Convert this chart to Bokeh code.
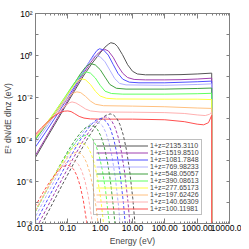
from bokeh.plotting import figure
from bokeh.models import LogAxis, FixedTicker, Legend, LegendItem
from bokeh.embed import file_html
from bokeh.resources import INLINE

labels = ["1+z=2135.3110", "1+z=1519.8510", "1+z=1081.7848", "1+z=769.98233",
          "1+z=548.05057", "1+z=390.08613", "1+z=277.65173", "1+z=197.62426",
          "1+z=140.66309", "1+z=100.11981"]
colors = ["#555555", "#a040b0", "#5050ff", "#b0b0ff", "#40a040",
          "#60ff60", "#ffff40", "#ffc080", "#ffb0b0", "#ff5050"]

# ---- solid curves: log10(E/eV), log10(E^2 dN/dE dlnz) ----
s0_lx = [-2.0, -1.7, -1.4, -1.1, -0.8, -0.5, -0.25, 0.0, 0.15, 0.25, 0.33, 0.45, 0.54, 0.69, 0.85, 1.0, 1.15, 1.4, 2.0, 2.5, 3.0, 3.45, 3.45]
s0_ly = [-4.85, -4.05, -3.27, -2.48, -1.7, -0.93, -0.37, 0.12, 0.4, 0.53, 0.61, 0.56, 0.42, 0.04, -0.44, -0.75, -0.88, -0.92, -0.92, -0.91, -0.88, -0.84, -10]
s1_lx = [-2.0, -1.7, -1.4, -1.1, -0.8, -0.5, -0.3, -0.1, 0.05, 0.13, 0.25, 0.4, 0.55, 0.7, 0.85, 1.05, 1.4, 2.0, 2.5, 3.0, 3.45, 3.45]
s1_ly = [-4.75, -3.97, -3.18, -2.4, -1.6, -0.82, -0.35, 0.05, 0.25, 0.30, 0.22, -0.08, -0.5, -0.85, -1.05, -1.14, -1.16, -1.16, -1.15, -1.12, -1.08, -10]
s2_lx = [-2.0, -1.7, -1.4, -1.1, -0.8, -0.55, -0.35, -0.2, -0.1, -0.02, 0.1, 0.25, 0.4, 0.55, 0.7, 0.9, 1.2, 2.0, 3.0, 3.45, 3.45]
s2_ly = [-4.35, -3.68, -2.98, -2.25, -1.5, -0.85, -0.33, 0.03, 0.24, 0.32, 0.27, 0.02, -0.42, -0.85, -1.13, -1.27, -1.3, -1.3, -1.25, -1.22, -10]
s3_lx = [-2.0, -1.7, -1.4, -1.1, -0.8, -0.55, -0.35, -0.22, -0.13, 0.0, 0.15, 0.3, 0.45, 0.6, 0.8, 2.0, 3.0, 3.45, 3.45]
s3_ly = [-4.15, -3.5, -2.83, -2.13, -1.4, -0.8, -0.35, -0.08, -0.01, -0.06, -0.3, -0.7, -1.1, -1.33, -1.4, -1.42, -1.38, -1.35, -10]
s4_lx = [-2.0, -1.7, -1.4, -1.1, -0.8, -0.6, -0.45, -0.35, -0.28, -0.15, 0.0, 0.15, 0.3, 0.5, 0.8, 2.0, 3.0, 3.45, 3.45]
s4_ly = [-4.0, -3.37, -2.72, -2.05, -1.33, -0.85, -0.55, -0.42, -0.39, -0.45, -0.67, -1.03, -1.38, -1.56, -1.6, -1.6, -1.57, -1.55, -10]
s5_lx = [-2.0, -1.7, -1.4, -1.1, -0.85, -0.65, -0.5, -0.43, -0.3, -0.15, 0.0, 0.15, 0.35, 0.7, 2.0, 3.0, 3.45, 3.45]
s5_ly = [-3.95, -3.32, -2.68, -2.0, -1.42, -1.02, -0.83, -0.78, -0.84, -1.07, -1.42, -1.7, -1.81, -1.84, -1.84, -1.82, -1.8, -10]
s6_lx = [-2.0, -1.7, -1.4, -1.1, -0.9, -0.75, -0.65, -0.57, -0.45, -0.3, -0.15, 0.0, 0.2, 0.5, 2.0, 3.0, 3.45, 3.45]
s6_ly = [-3.9, -3.3, -2.7, -2.05, -1.6, -1.3, -1.16, -1.11, -1.16, -1.38, -1.7, -1.93, -2.04, -2.07, -2.08, -2.08, -2.1, -10]
s7_lx = [-2.0, -1.7, -1.4, -1.2, -1.0, -0.85, -0.72, -0.6, -0.45, -0.3, -0.15, 0.1, 1.0, 2.0, 3.0, 3.45, 3.45]
s7_ly = [-3.85, -3.35, -2.82, -2.4, -2.0, -1.8, -1.73, -1.77, -1.95, -2.17, -2.32, -2.39, -2.41, -2.44, -2.5, -2.52, -10]
s8_lx = [-2.0, -1.8, -1.6, -1.4, -1.2, -1.05, -0.95, -0.87, -0.75, -0.6, -0.45, -0.3, 0.0, 1.0, 2.0, 2.6, 3.0, 3.25, 3.38, 3.45, 3.45]
s8_ly = [-3.8, -3.5, -3.18, -2.88, -2.56, -2.36, -2.25, -2.21, -2.26, -2.4, -2.55, -2.64, -2.69, -2.7, -2.72, -2.76, -2.83, -2.86, -2.8, -2.7, -10]
s9_lx = [-2.0, -1.8, -1.6, -1.4, -1.25, -1.1, -1.0, -0.9, -0.8, -0.65, -0.5, -0.3, 0.0, 1.0, 2.0, 2.6, 3.0, 3.2, 3.35, 3.45, 3.45]
s9_ly = [-3.75, -3.42, -3.12, -2.86, -2.72, -2.65, -2.64, -2.67, -2.76, -2.9, -2.98, -3.02, -3.03, -3.03, -3.06, -3.15, -3.27, -3.3, -3.2, -2.85, -10]

# ---- dashed curves ----
d0_lx = [-2.09, -1.69, -1.19, -0.69, -0.39, -0.19, 0.01, 0.16, 0.31, 0.41, 0.51, 0.61, 0.71, 0.81, 0.91, 1.01, 1.11]
d0_ly = [-8.89, -7.69, -6.21, -4.77, -3.96, -3.48, -3.07, -2.86, -2.78, -2.83, -2.98, -3.28, -3.76, -4.47, -5.46, -6.82, -8.63]
d1_lx = [-2.24, -1.84, -1.34, -0.84, -0.54, -0.34, -0.14, 0.01, 0.16, 0.26, 0.36, 0.46, 0.56, 0.66, 0.76, 0.86, 0.96]
d1_ly = [-9.03, -7.83, -6.35, -4.91, -4.10, -3.62, -3.21, -3.00, -2.92, -2.97, -3.12, -3.42, -3.90, -4.61, -5.60, -6.96, -8.77]
d2_lx = [-2.38, -1.98, -1.48, -0.98, -0.68, -0.48, -0.28, -0.13, 0.02, 0.12, 0.22, 0.32, 0.42, 0.52, 0.62, 0.72, 0.82]
d2_ly = [-9.11, -7.91, -6.43, -4.99, -4.18, -3.70, -3.29, -3.08, -3.00, -3.05, -3.20, -3.50, -3.98, -4.69, -5.68, -7.04, -8.85]
d3_lx = [-2.13, -1.63, -1.13, -0.83, -0.63, -0.43, -0.28, -0.13, -0.03, 0.07, 0.17, 0.27, 0.37, 0.47, 0.57, 0.67]
d3_ly = [-8.06, -6.58, -5.14, -4.33, -3.85, -3.44, -3.23, -3.15, -3.20, -3.35, -3.65, -4.13, -4.84, -5.83, -7.19, -9.00]
d4_lx = [-2.28, -1.78, -1.28, -0.98, -0.78, -0.58, -0.43, -0.28, -0.18, -0.08, 0.02, 0.12, 0.22, 0.32, 0.42, 0.52]
d4_ly = [-8.24, -6.76, -5.32, -4.51, -4.03, -3.62, -3.41, -3.33, -3.38, -3.53, -3.83, -4.31, -5.02, -6.01, -7.37, -9.18]
d5_lx = [-2.43, -1.93, -1.43, -1.13, -0.93, -0.73, -0.58, -0.43, -0.33, -0.23, -0.13, -0.03, 0.07, 0.17, 0.27, 0.37]
d5_ly = [-8.70, -7.22, -5.78, -4.97, -4.49, -4.08, -3.87, -3.79, -3.84, -3.99, -4.29, -4.77, -5.48, -6.47, -7.83, -9.64]
d6_lx = [-2.08, -1.58, -1.28, -1.08, -0.88, -0.73, -0.58, -0.48, -0.38, -0.28, -0.18, -0.08, 0.02, 0.12]
d6_ly = [-7.60, -6.16, -5.35, -4.87, -4.46, -4.25, -4.17, -4.22, -4.37, -4.67, -5.15, -5.86, -6.85, -8.21]
d7_lx = [-2.22, -1.72, -1.42, -1.22, -1.02, -0.87, -0.72, -0.62, -0.52, -0.42, -0.32, -0.22, -0.12, -0.02]
d7_ly = [-8.03, -6.59, -5.78, -5.30, -4.89, -4.68, -4.60, -4.65, -4.80, -5.10, -5.58, -6.29, -7.28, -8.64]
d8_lx = [-2.37, -1.87, -1.57, -1.37, -1.17, -1.02, -0.87, -0.77, -0.67, -0.57, -0.47, -0.37, -0.27, -0.17, -0.07]
d8_ly = [-8.42, -6.98, -6.17, -5.69, -5.28, -5.07, -4.99, -5.04, -5.19, -5.49, -5.97, -6.68, -7.67, -9.03, -10.84]
d9_lx = [-2.02, -1.72, -1.52, -1.32, -1.17, -1.02, -0.92, -0.82, -0.72, -0.62, -0.52, -0.42, -0.32, -0.22]
d9_ly = [-7.21, -6.40, -5.92, -5.51, -5.30, -5.22, -5.27, -5.42, -5.72, -6.20, -6.91, -7.90, -9.26, -11.07]

solid = [(s0_lx, s0_ly), (s1_lx, s1_ly), (s2_lx, s2_ly), (s3_lx, s3_ly), (s4_lx, s4_ly),
         (s5_lx, s5_ly), (s6_lx, s6_ly), (s7_lx, s7_ly), (s8_lx, s8_ly), (s9_lx, s9_ly)]
dashed = [(d0_lx, d0_ly), (d1_lx, d1_ly), (d2_lx, d2_ly), (d3_lx, d3_ly), (d4_lx, d4_ly),
          (d5_lx, d5_ly), (d6_lx, d6_ly), (d7_lx, d7_ly), (d8_lx, d8_ly), (d9_lx, d9_ly)]

x_ticks = [0.01, 0.1, 1, 10, 100, 1000, 10000]
x_tick_labels = ["0.01", "0.10", "1.00", "10.00", "100.00", "1000.00", "10000.0"]
x_minor = [m * t for t in [0.01, 0.1, 1, 10, 100, 1000] for m in range(2, 10)]
y_ticks = [1e-8, 1e-7, 1e-6, 1e-5, 1e-4, 1e-3, 1e-2, 1e-1, 1.0, 10.0, 100.0]
y_tick_labels = ["10\u207b\u2078", " ", "10\u207b\u2076", " ", "10\u207b\u2074", " ", "10\u207b\u00b2", " ", "10\u2070", " ", "10\u00b2"]

FONT = "Liberation Sans"
AX = "#808080"

p = figure(width=241, height=248, x_axis_type="log", y_axis_type="log",
           x_range=(0.01, 10000), y_range=(1e-8, 100),
           output_backend="svg", toolbar_location=None,
           min_border_left=33, min_border_right=12, min_border_top=13, min_border_bottom=20)
p.xgrid.visible = False
p.ygrid.visible = False
p.outline_line_color = AX
p.background_fill_color = "white"

def style_x(ax, show):
    ax.ticker = FixedTicker(ticks=x_ticks, minor_ticks=x_minor)
    ax.major_tick_in = 5
    ax.major_tick_out = 0
    ax.minor_tick_in = 2
    ax.minor_tick_out = 0
    ax.axis_line_color = AX
    ax.major_tick_line_color = AX
    ax.minor_tick_line_color = AX
    ax.major_label_text_font = FONT
    if show:
        ax.major_label_overrides = {t: l for t, l in zip(x_ticks, x_tick_labels)}
        ax.major_label_text_font_size = "8.5px"
        ax.major_label_text_color = "black"
        ax.major_label_standoff = 1
    else:
        ax.major_label_text_font_size = "1px"
        ax.major_label_text_color = None
        ax.major_label_standoff = 0

def style_y(ax, show):
    ax.ticker = FixedTicker(ticks=y_ticks)
    ax.major_tick_in = 3
    ax.major_tick_out = 0
    ax.minor_tick_in = 0
    ax.minor_tick_out = 0
    ax.axis_line_color = AX
    ax.major_tick_line_color = AX
    ax.major_label_text_font = FONT
    if show:
        ax.major_label_overrides = {t: l for t, l in zip(y_ticks, y_tick_labels)}
        ax.major_label_text_font_size = "8.5px"
        ax.major_label_text_color = "black"
        ax.major_label_standoff = 3
    else:
        ax.major_label_text_font_size = "1px"
        ax.major_label_text_color = None
        ax.major_label_standoff = 0

style_x(p.xaxis[0], True)
style_y(p.yaxis[0], True)
p.xaxis[0].axis_label = "Energy (eV)"
p.yaxis[0].axis_label = "E\u00b2 dN/dE dlnz (eV)"
for ax in (p.xaxis[0], p.yaxis[0]):
    ax.axis_label_text_font = FONT
    ax.axis_label_text_font_size = "8.5px"
    ax.axis_label_text_font_style = "normal"
p.xaxis[0].axis_label_standoff = 2
p.yaxis[0].axis_label_standoff = 0

top = LogAxis()
style_x(top, False)
p.add_layout(top, "above")
right = LogAxis()
style_y(right, False)
p.add_layout(right, "right")

renderers = []
for (lx, ly), c in zip(solid, colors):
    r = p.line([10 ** v for v in lx], [10 ** v for v in ly], line_color=c, line_width=1)
    renderers.append(r)
for (lx, ly), c in zip(dashed, colors):
    p.line([10 ** v for v in lx], [10 ** v for v in ly], line_color=c, line_width=1, line_dash="3 2")

legend = Legend(items=[LegendItem(label=l, renderers=[r]) for l, r in zip(labels, renderers)],
                location=(58, 8))
legend.label_text_font = FONT
legend.label_text_font_size = "7px"
legend.glyph_width = 52
legend.glyph_height = 7
legend.label_height = 7
legend.spacing = 0
legend.padding = 2
legend.margin = 0
legend.label_standoff = 2
legend.border_line_color = AX
legend.background_fill_alpha = 0
p.add_layout(legend)

open("out.html", "w").write(file_html(p, INLINE))
